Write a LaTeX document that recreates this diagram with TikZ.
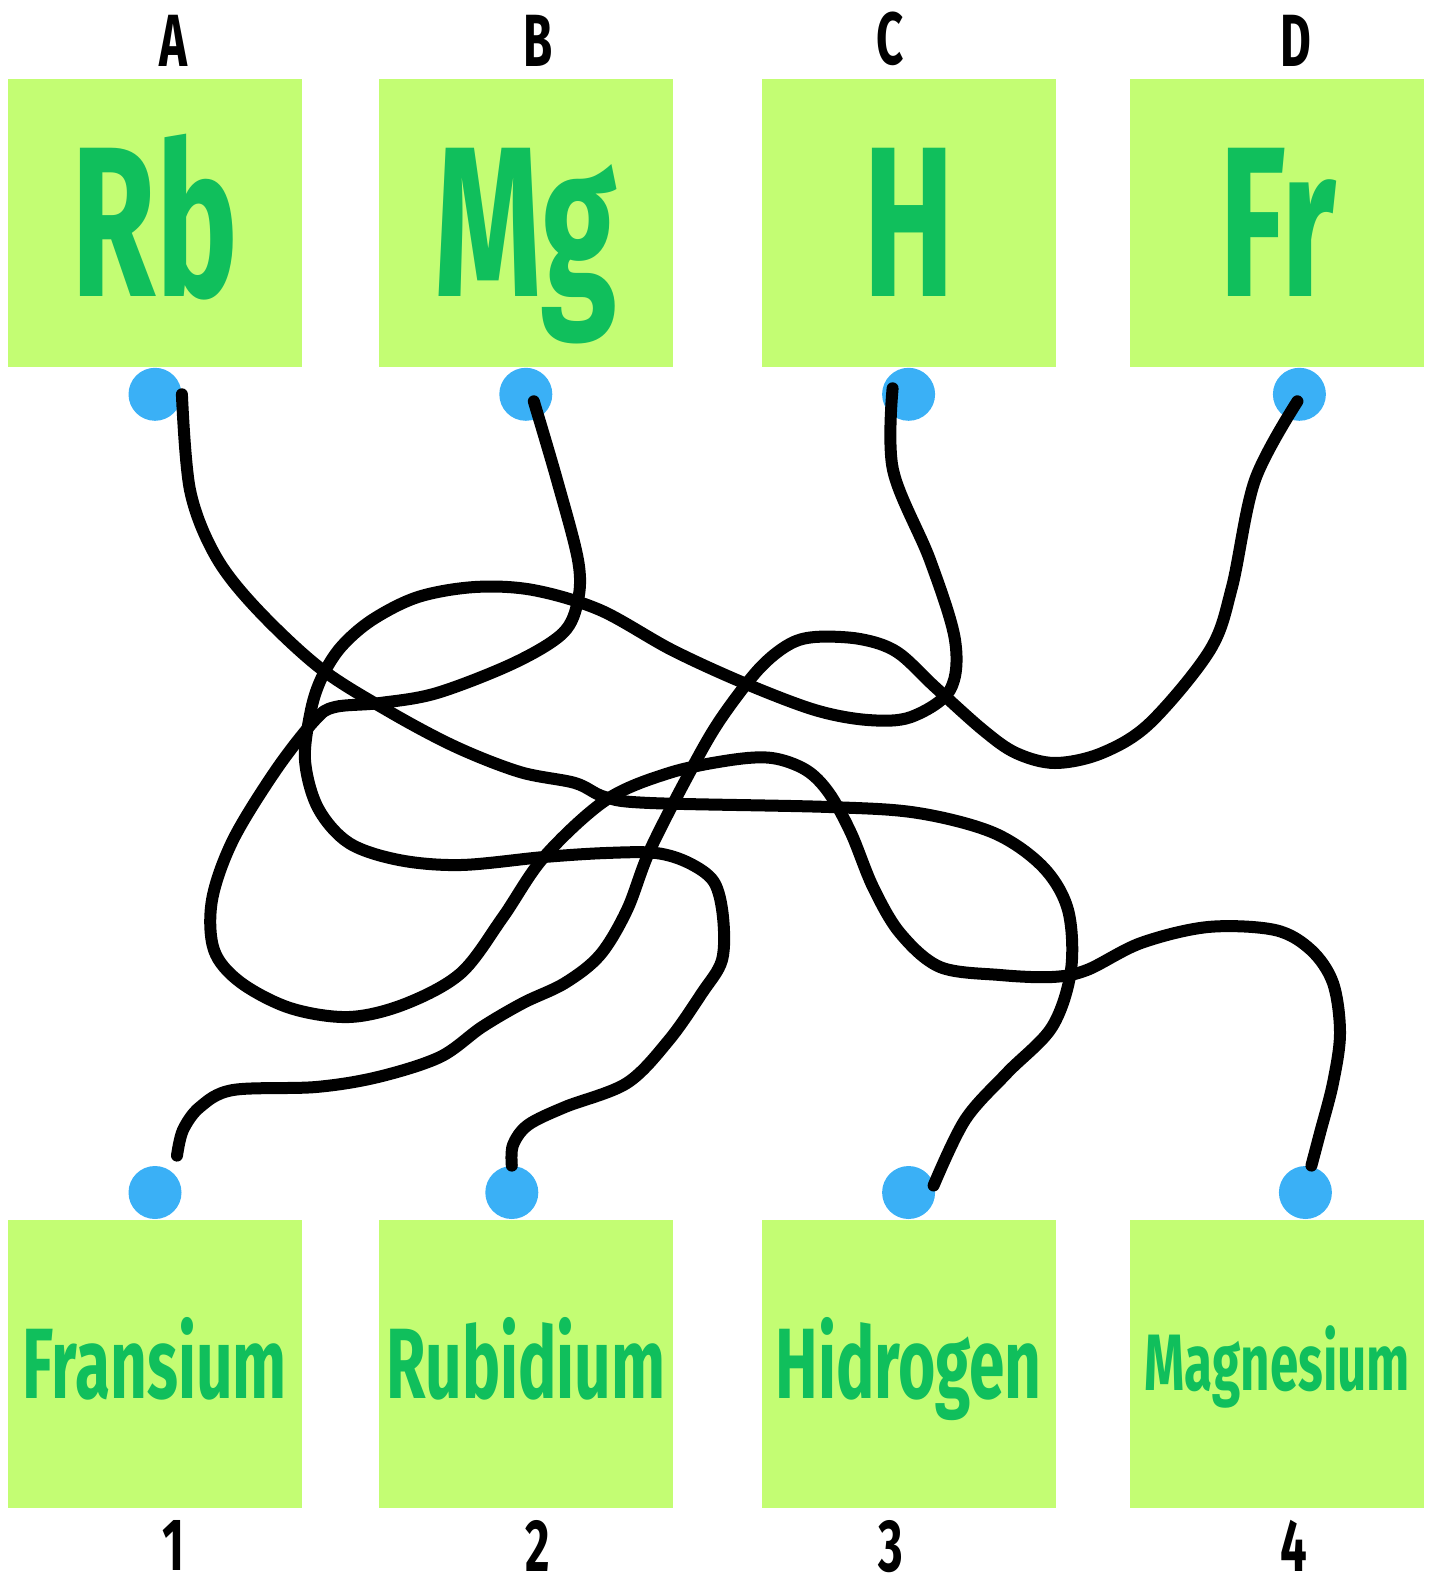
\documentclass[tikz,border=0pt]{standalone}
\usepackage{fontspec}
\setmainfont{Fira Sans}
\newfontfamily\markfont[FakeStretch=0.64]{Fira Sans}
\usetikzlibrary{positioning,calc}

\definecolor{tilegreen}{HTML}{C3FD73}
\definecolor{inkgreen}{HTML}{10BF5C}
\definecolor{pinblue}{HTML}{3AB0F6}

\tikzstyle{tile} = [rectangle, fill=tilegreen, text=inkgreen,
minimum width=147pt, minimum height=144pt, inner sep=0pt]
\tikzstyle{symbol} = [tile, text height=73.5pt, text depth=0pt,
font=\markfont\bfseries\fontsize{107}{107}\selectfont]
\tikzstyle{word} = [tile, text height=35pt, text depth=0pt,
font=\markfont\bfseries\fontsize{50}{50}\selectfont]
\tikzstyle{pin} = [circle, fill=pinblue, minimum size=26.5pt, inner sep=0pt]
\tikzstyle{tag} = [inner sep=0pt, font=\markfont\bfseries\fontsize{37}{37}\selectfont]
\tikzstyle{wire} = [draw, line width=6pt, line cap=round, line join=round]

\begin{document}
\begin{tikzpicture}[x=0.5pt, y=-0.5pt]
\useasboundingbox (0,0) rectangle (1438,1589);

% symbols
\node [symbol] (Rb) at (155,223) {Rb};
\node [symbol, right=38pt of Rb] (Mg) {Mg};
\node [symbol, right=44pt of Mg] (H) {H};
\node [symbol, right=37pt of H] (Fr) {Fr};

% names
\node [word, below=426pt of Rb] (Fransium) {Fransium};
\node [word, below=426pt of Mg] (Rubidium) {Rubidium};
\node [word, below=426pt of H] (Hidrogen) {Hidrogen};
\node [word, below=426pt of Fr, text height=27pt,
font=\markfont\bfseries\fontsize{40}{40}\selectfont] (Magnesium) {Magnesium};

\node [tag, above=6pt of Rb, xshift=9pt] (tagA) {A};
\node [tag, above=6pt of Mg, xshift=6pt] (tagB) {B};
\node [tag, above=6pt of H, xshift=-9pt] (tagC) {C};
\node [tag, above=6pt of Fr, xshift=9pt] (tagD) {D};
\node [tag, below=6pt of Fransium, xshift=9pt] (tag1) {1};
\node [tag, below=6pt of Rubidium, xshift=6pt] (tag2) {2};
\node [tag, below=6pt of Hidrogen, xshift=-9pt] (tag3) {3};
\node [tag, below=6pt of Magnesium, xshift=8pt] (tag4) {4};

% dots
\node [pin, below=0pt of Rb] (pinA) {};
\node [pin, below=0pt of Mg] (pinB) {};
\node [pin, below=0pt of H] (pinC) {};
\node [pin, below=0pt of Fr, xshift=11pt] (pinD) {};
\node [pin, above=0pt of Fransium] (pin1) {};
\node [pin, above=0pt of Rubidium, xshift=-7pt] (pin2) {};
\node [pin, above=0pt of Hidrogen] (pin3) {};
\node [pin, above=0pt of Magnesium, xshift=14pt] (pin4) {};

% tangled lines
\path [wire] plot [smooth, tension=0.55] coordinates {(pinA.east)
 (190,490) (215,555) (255,607) (320,668) (390,712) (456,747)
 (520,772) (575,783) (605,797) (650,803) (829,807) (918,813) (994,833)
 (1043,867) (1068,910) (1071,970) (1052,1027) (1007,1073) (965,1120)
 ($(pin3)+(25,-7)$)};
\path [wire] plot [smooth, tension=0.55] coordinates {($(pinB)+(8,7)$)
 (557,480) (578,560) (578,600) (563,633) (514,663) (437,693)
 (380,703) (335,707) (315,720) (276,770) (233,840) (212,900) (214,950)
 (240,982) (290,1008) (349,1017) (405,1004) (461,973) (503,917) (544,857)
 (606,800) (669,773) (731,760) (772,758) (806,770) (829,793) (851,833)
 (873,887) (900,933) (940,967) (1000,975) (1052,977) (1087,970) (1141,943)
 (1208,927) (1275,930) (1311,950) (1333,983) (1340,1033) (1333,1083)
 (1320,1133) ($(pin4.north)+(6,0)$)};
\path [wire] plot [smooth, tension=0.55] coordinates {($(pinC)+(-16,-6)$)
 (893,470) (930,560) (955,640) (950,690) (911,717)
 (868,720) (815,710) (744,683) (672,650) (600,610) (533,590) (475,587)
 (418,597) (372,620) (341,647) (322,677) (311,710) (305,760) (318,808)
 (349,843) (399,860) (461,865) (544,857) (606,853) (656,853) (689,863)
 (714,882) (723,917) (722,960) (702,993) (669,1040) (627,1083) (565,1107)
 (528,1125) (513,1145) (pin2.north)};
\path [wire] plot [smooth, tension=0.55] coordinates {($(pinD)+(-2,7)$)
 (1255,480) (1232,587) (1210,650) (1150,723)
 (1102,753) (1055,763) (1016,753) (983,730) (935,687) (897,652) (860,639)
 (815,637) (788,645) (758,670) (720,720) (691,770) (650,850) (627,910)
 (600,955) (565,983) (523,1003) (482,1027) (440,1057) (378,1077) (316,1087)
 (233,1090) (200,1107) (183,1130) ($(pin1.north)+(22,-10)$)};
\end{tikzpicture}
\end{document}
